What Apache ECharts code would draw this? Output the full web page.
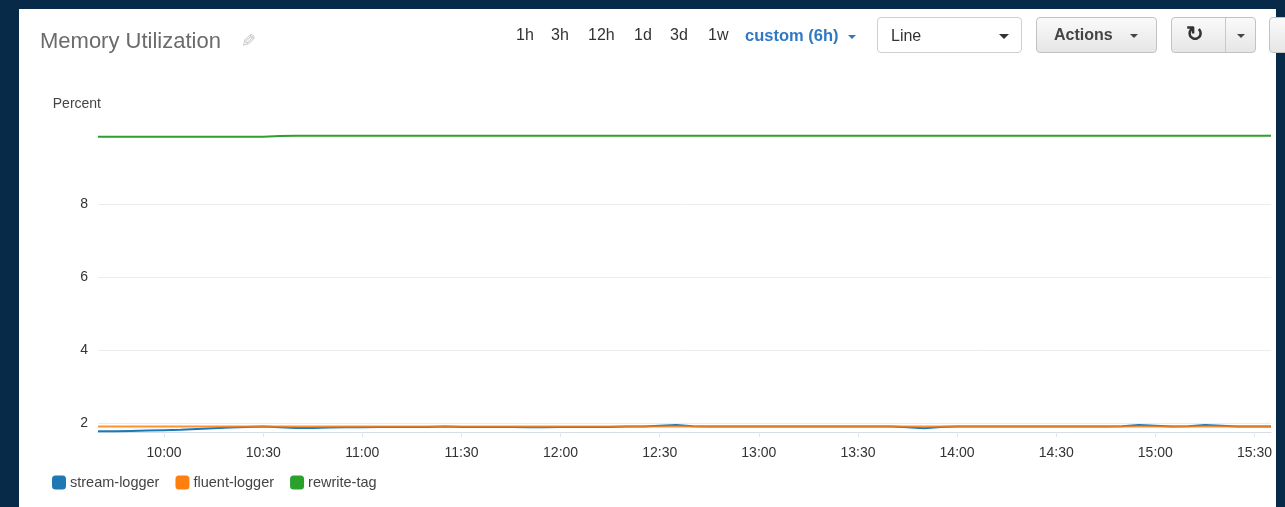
<!DOCTYPE html>
<html>
<head>
<meta charset="utf-8">
<title>Memory Utilization</title>
<script src="https://cdn.jsdelivr.net/npm/echarts@6/dist/echarts.min.js"></script>
<style>
  html, body { margin: 0; padding: 0; }
  body {
    width: 1285px; height: 507px; overflow: hidden; position: relative;
    background: #062a48;
    font-family: "Helvetica Neue", Helvetica, "Liberation Sans", Arial, sans-serif;
  }
  #panel { position: absolute; left: 19px; top: 9px; width: 1257px; height: 500px; background: #fff; }
  #chart { position: absolute; left: 0; top: 0; width: 1285px; height: 507px; }
  .abs { position: absolute; white-space: nowrap; }
  #title { left: 40px; top: 28px; font-size: 22px; color: #6b6b6b; }
  #pencil { left: 241px; top: 30px; font-size: 18px; color: #c4c4c4; transform: scaleX(-1); }
  .range { top: 26px; font-size: 16px; color: #333; }
  #custom { left: 745px; top: 26px; font-size: 16.5px; color: #2f78c4; font-weight: bold; }
  .caret { display: inline-block; width: 0; height: 0; border-left: 4px solid transparent;
           border-right: 4px solid transparent; border-top: 4px solid #333; vertical-align: middle; }
  #line { left: 877px; top: 17px; width: 145px; height: 36px; border: 1px solid #cfcfcf; border-radius: 4px;
          box-sizing: border-box; background: #fff; }
  #line span { position: absolute; left: 13px; top: 9px; font-size: 16px; color: #333; }
  #line .caret { position: absolute; left: 121px; top: 16px; border-top-width: 5px; border-left-width: 5px; border-right-width: 5px; }
  .btn { top: 17px; height: 36px; border: 1px solid #c2c2c2; border-radius: 4px; box-sizing: border-box;
         background: linear-gradient(#fafafa, #e6e6e6); }
  #actions { left: 1036px; width: 121px; }
  #actions span { position: absolute; left: 17px; top: 8px; font-size: 16px; font-weight: bold; color: #444; }
  #actions .caret { position: absolute; left: 93px; top: 16px; border-top-color: #444; }
  #refresh { left: 1171px; width: 85px; }
  #refresh .ico { position: absolute; left: 14px; top: 4px; font-size: 21px; font-weight: bold; color: #333; }
  #refresh .sep { position: absolute; left: 53px; top: 0; width: 1px; height: 34px; background: #c8c8c8; }
  #refresh .caret { position: absolute; left: 65px; top: 16px; border-top-color: #444; }
  #more { left: 1269px; width: 30px; }
</style>
</head>
<body>
<div id="panel"></div>
<div id="chart"></div>
<div class="abs" id="title">Memory Utilization</div>
<div class="abs" id="pencil">&#x270E;</div>
<div class="abs range" style="left:516px">1h</div>
<div class="abs range" style="left:551px">3h</div>
<div class="abs range" style="left:588px">12h</div>
<div class="abs range" style="left:634px">1d</div>
<div class="abs range" style="left:670px">3d</div>
<div class="abs range" style="left:708px">1w</div>
<div class="abs" id="custom">custom (6h) <span class="caret" style="border-top-color:#2f78c4;margin-left:5px"></span></div>
<div class="abs" id="line"><span>Line</span><i class="caret"></i></div>
<div class="abs btn" id="actions"><span>Actions</span><i class="caret"></i></div>
<div class="abs btn" id="refresh"><span class="ico">&#x21BB;</span><i class="sep"></i><i class="caret"></i></div>
<div class="abs btn" id="more"></div>
<script>
// sample times (5 min)
var times = [
  '09:40','09:45','09:50','09:55','10:00','10:05','10:10','10:15','10:20','10:25','10:30','10:35',
  '10:40','10:45','10:50','10:55','11:00','11:05','11:10','11:15','11:20','11:25','11:30','11:35',
  '11:40','11:45','11:50','11:55','12:00','12:05','12:10','12:15','12:20','12:25','12:30','12:35',
  '12:40','12:45','12:50','12:55','13:00','13:05','13:10','13:15','13:20','13:25','13:30','13:35',
  '13:40','13:45','13:50','13:55','14:00','14:05','14:10','14:15','14:20','14:25','14:30','14:35',
  '14:40','14:45','14:50','14:55','15:00','15:05','15:10','15:15','15:20','15:25','15:30','15:35'
];
var streamLogger = [
  1.77,1.77,1.78,1.79,1.80,1.81,1.83,1.85,1.87,1.89,1.90,1.88,
  1.86,1.86,1.87,1.88,1.88,1.89,1.89,1.89,1.89,1.90,1.89,1.89,
  1.89,1.89,1.88,1.88,1.89,1.89,1.89,1.89,1.90,1.90,1.92,1.94,
  1.91,1.90,1.90,1.90,1.90,1.90,1.90,1.90,1.90,1.90,1.90,1.90,
  1.90,1.88,1.85,1.89,1.90,1.90,1.90,1.90,1.90,1.90,1.90,1.90,
  1.90,1.90,1.91,1.94,1.92,1.90,1.91,1.94,1.92,1.90,1.90,1.90
];
var fluentLogger = [
  1.90,1.90,1.90,1.90,1.90,1.90,1.90,1.90,1.90,1.90,1.90,1.90,
  1.90,1.90,1.90,1.90,1.90,1.90,1.90,1.90,1.90,1.90,1.90,1.90,
  1.90,1.90,1.90,1.90,1.90,1.90,1.90,1.90,1.90,1.90,1.90,1.90,
  1.90,1.90,1.90,1.90,1.90,1.90,1.90,1.90,1.90,1.90,1.90,1.90,
  1.90,1.90,1.90,1.90,1.90,1.90,1.90,1.90,1.90,1.90,1.90,1.90,
  1.90,1.90,1.90,1.90,1.90,1.90,1.90,1.90,1.90,1.90,1.90,1.90
];
var rewriteTag = [
  9.84,9.84,9.84,9.84,9.84,9.84,9.84,9.84,9.84,9.84,9.84,9.86,
  9.87,9.87,9.87,9.87,9.87,9.87,9.87,9.87,9.87,9.87,9.87,9.87,
  9.87,9.87,9.87,9.87,9.87,9.87,9.87,9.87,9.87,9.87,9.87,9.87,
  9.87,9.87,9.87,9.87,9.87,9.87,9.87,9.87,9.87,9.87,9.87,9.87,
  9.87,9.87,9.87,9.87,9.87,9.87,9.87,9.87,9.87,9.87,9.87,9.87,
  9.87,9.87,9.87,9.87,9.87,9.87,9.87,9.87,9.87,9.87,9.87,9.87
];
var yTicks = [2, 4, 6, 8];

// only half-hour marks get a label / tick
function onHalfHour(i, v) { return /:(00|30)$/.test(v); }

var chart = echarts.init(document.getElementById('chart'));
var font = '"Helvetica Neue", Helvetica, "Liberation Sans", Arial, sans-serif';
chart.setOption({
  animation: false,
  textStyle: { fontFamily: font },
  grid: { left: 98, right: 14, top: 120, bottom: 75 },
  legend: {
    left: 52, top: 475, padding: 0,
    icon: 'roundRect', itemWidth: 14, itemHeight: 14, itemGap: 16,
    textStyle: { fontSize: 14.5, color: '#444', padding: [0, 0, 0, -1] },
    data: ['stream-logger', 'fluent-logger', 'rewrite-tag']
  },
  xAxis: {
    type: 'category', boundaryGap: false, data: times,
    axisLine: { lineStyle: { color: '#d6dde6', width: 1 } },
    axisTick: { show: true, length: 5, interval: onHalfHour, lineStyle: { color: '#e6e6e6' } },
    splitLine: { show: false },
    axisLabel: { margin: 14, fontSize: 14, color: '#333', interval: onHalfHour,
      formatter: function (v) { return v.replace(/^0/, ''); } }
  },
  yAxis: {
    type: 'value', min: 1.75, max: 10.3,
    name: 'Percent', nameLocation: 'end', nameGap: 9,
    nameTextStyle: { fontSize: 14, color: '#444', align: 'right', padding: [0, -3, 0, 0] },
    axisLine: { show: false }, axisTick: { show: false },
    splitLine: { show: false },
    axisLabel: {
      margin: 10, fontSize: 14, color: '#333',
      formatter: function (v) { return yTicks.indexOf(v) >= 0 ? String(v) : ''; }
    }
  },
  series: [
    { name: 'stream-logger', type: 'line', showSymbol: false, color: '#1f77b4',
      lineStyle: { width: 2 }, data: streamLogger,
      markLine: { silent: true, symbol: 'none', label: { show: false },
        lineStyle: { color: '#ececec', type: 'solid', width: 1 },
        data: yTicks.map(function (t) { return { yAxis: t }; }) } },
    { name: 'fluent-logger', type: 'line', showSymbol: false, color: '#ff7f0e',
      lineStyle: { width: 2, opacity: 0.85 }, data: fluentLogger },
    { name: 'rewrite-tag', type: 'line', showSymbol: false, color: '#2ca02c',
      lineStyle: { width: 2 }, data: rewriteTag }
  ]
});
</script>
</body>
</html>
